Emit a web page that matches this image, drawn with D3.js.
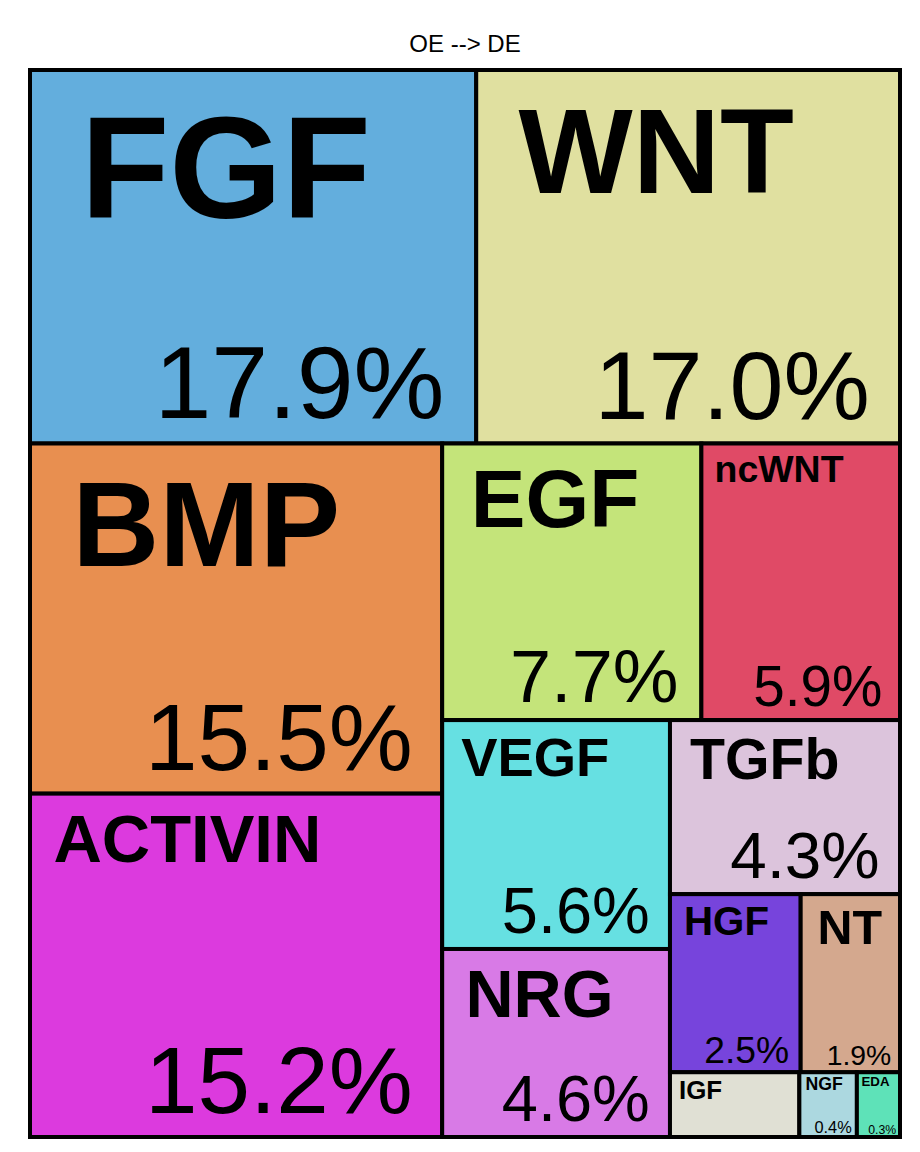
<!DOCTYPE html>
<html>
<head>
<meta charset="utf-8">
<script src="https://cdn.jsdelivr.net/npm/d3@7"></script>
<style>
  body { margin: 0; background: #fff; }
  text { font-family: "Liberation Sans", Arial, sans-serif; }
</style>
</head>
<body>
<div id="chart"></div>
<script>
// data
const categories = ["FGF", "WNT", "BMP", "ACTIVIN", "EGF", "ncWNT", "VEGF", "NRG", "TGFb", "HGF", "NT", "IGF", "NGF", "EDA"];
const values = [17.9, 17.0, 15.5, 15.2, 7.7, 5.9, 5.6, 4.6, 4.3, 2.5, 1.9, 0.9, 0.4, 0.3];
const labels = ["17.9%", "17.0%", "15.5%", "15.2%", "7.7%", "5.9%", "5.6%", "4.6%", "4.3%", "2.5%", "1.9%", "", "0.4%", "0.3%"];
const colors = ["#63aedd", "#e0e0a0", "#e88f50", "#dc3ade", "#c4e47a", "#e04a66", "#66e0e2", "#d87ae6", "#dcc4dc", "#7744dc", "#d4a88e", "#e0e0d4", "#acd8e0", "#5ee2b8"];

// nesting of the tiles: "v" stacks children top to bottom, "h" left to right
const layout = ["v",
  ["h", 0, 1],
  ["h",
    ["v", 2, 3],
    ["v",
      ["h", 4, 5],
      ["h",
        ["v", 6, 7],
        ["v", 8,
          ["v", ["h", 9, 10], ["h", 11, 12, 13]]]]]]];

const width = 920, height = 1152;
const margin = { top: 70, right: 20, bottom: 15, left: 30 };

function build(n) {
  if (typeof n === "number") return { i: n, name: categories[n], value: values[n] };
  return { dir: n[0], children: n.slice(1).map(build) };
}

const root = d3.hierarchy(build(layout)).sum(d => d.value || 0);

d3.treemap()
  .size([width - margin.left - margin.right, height - margin.top - margin.bottom])
  .tile((node, x0, y0, x1, y1) => {
    if (node.data.dir === "h") d3.treemapDice(node, x0, y0, x1, y1);
    else d3.treemapSlice(node, x0, y0, x1, y1);
  })(root);

const svg = d3.select("#chart").append("svg")
  .attr("width", width).attr("height", height);

svg.append("text")
  .attr("x", margin.left + (width - margin.left - margin.right) / 2)
  .attr("y", 52)
  .attr("text-anchor", "middle")
  .style("font-size", "24px")
  .text("OE --> DE");

const g = svg.append("g").attr("transform", `translate(${margin.left},${margin.top})`);

const leaves = g.selectAll("g.leaf").data(root.leaves()).join("g").attr("class", "leaf");

leaves.append("rect")
  .attr("x", d => d.x0).attr("y", d => d.y0)
  .attr("width", d => d.x1 - d.x0).attr("height", d => d.y1 - d.y0)
  .attr("fill", d => colors[d.data.i])
  .attr("stroke", "#000").attr("stroke-width", 4);

leaves.each(function (d) {
  const cell = d3.select(this);
  const w = d.x1 - d.x0, h = d.y1 - d.y0;

  // name, top left, bold
  const name = cell.append("text").style("font-weight", "bold").style("font-size", "100px").text(d.data.name);
  const nw = name.node().getComputedTextLength() / 100;
  const fsN = Math.min(0.4 * h, 0.65 * w / nw);
  name.style("font-size", fsN + "px")
    .attr("x", d.x0 + 0.35 * fsN)
    .attr("y", d.y0 + 1.02 * fsN);

  // percentage, bottom right
  const lab = labels[d.data.i];
  if (!lab) return;
  const pct = cell.append("text").attr("text-anchor", "end").style("font-size", "100px").text(lab);
  const pw = pct.node().getComputedTextLength() / 100;
  const fsP = Math.min(0.4 * h, 0.65 * w / pw);
  if (h - 0.97 * fsP < 1.02 * fsN) { pct.remove(); return; }
  pct.style("font-size", fsP + "px")
    .attr("x", d.x1 - 0.31 * fsP)
    .attr("y", d.y1 - 0.25 * fsP);
});
</script>
</body>
</html>
